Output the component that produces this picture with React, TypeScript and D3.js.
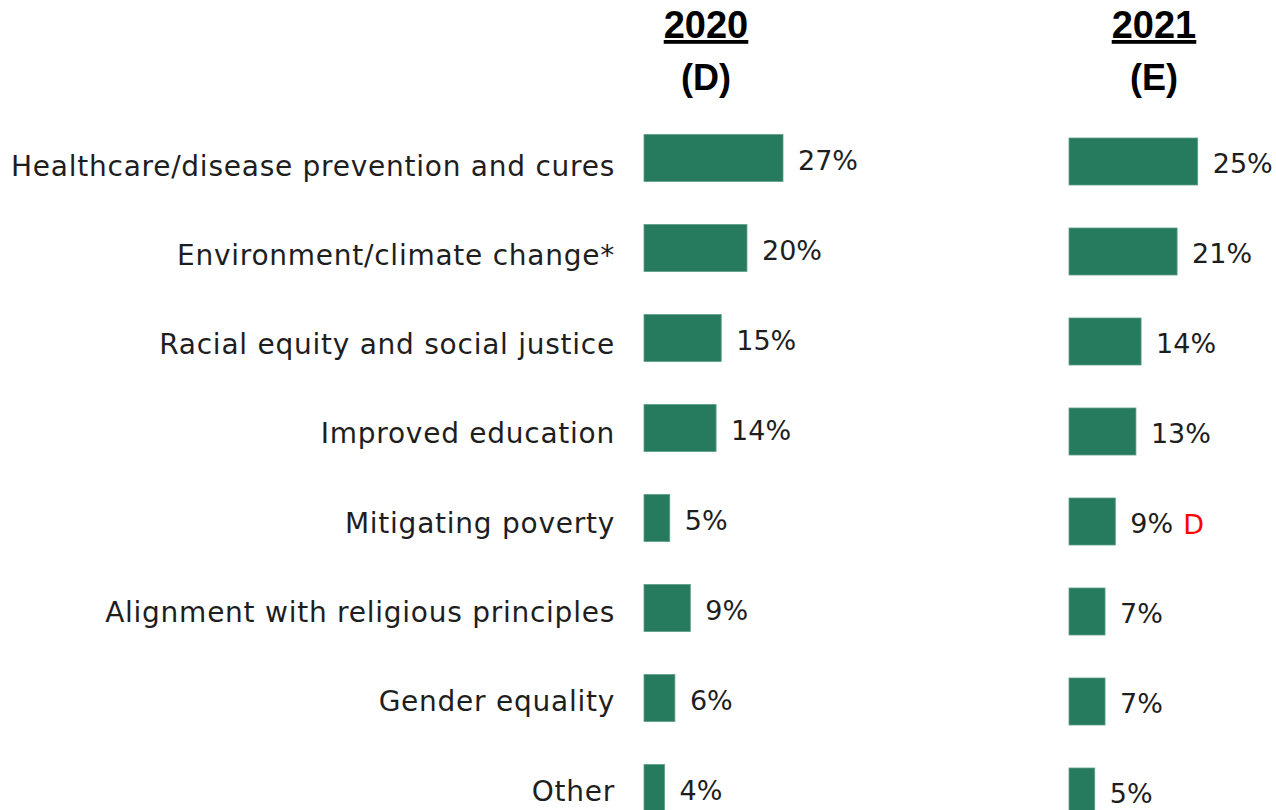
import React from "react";
import * as d3 from "d3";

const categories = [
  "Healthcare/disease prevention and cures",
  "Environment/climate change*",
  "Racial equity and social justice",
  "Improved education",
  "Mitigating poverty",
  "Alignment with religious principles",
  "Gender equality",
  "Other",
];
const values2020 = [27, 20, 15, 14, 5, 9, 6, 4];
const values2021 = [25, 21, 14, 13, 9, 7, 7, 5];
const sigFlags2021 = ["", "", "", "", "D", "", "", ""];
const headers = [
  { year: "2020", letter: "(D)" },
  { year: "2021", letter: "(E)" },
];

const W = 1276;
const H = 810;
const BAR = "#267b5e";
const LABEL_FONT = "'DejaVu Sans', 'Noto Sans', sans-serif";
const HEAD_FONT = "'Liberation Sans', Arial, sans-serif";

export default function App() {
  const x = d3.scaleLinear().domain([0, 27]).range([0, 139]);
  const yLabel = d3.scalePoint<string>().domain(categories).range([166, 791]);
  const y2020 = d3.scalePoint<string>().domain(categories).range([158, 788]);
  const y2021 = d3.scalePoint<string>().domain(categories).range([161.5, 791.5]);
  const barH = 47;
  const cols = [
    { x0: 644, y: y2020, vals: values2020, flags: categories.map(() => ""), cx: 706 },
    { x0: 1069, y: y2021, vals: values2021, flags: sigFlags2021, cx: 1154 },
  ];
  return (
    <svg
      width={W}
      height={H}
      style={{ position: "absolute", left: 0, top: 0, background: "#fff" }}
    >
      {categories.map((c) => (
        <text
          key={c}
          x={615}
          y={yLabel(c)!}
          textAnchor="end"
          dominantBaseline="central"
          fontFamily={LABEL_FONT}
          fontSize={28}
          letterSpacing={0.75}
          fill="#1e1e1e"
        >
          {c}
        </text>
      ))}
      {cols.map((col, ci) => (
        <g key={ci}>
          <text
            x={col.cx}
            y={38}
            textAnchor="middle"
            fontFamily={HEAD_FONT}
            fontWeight="bold"
            fontSize={38}
            fill="#000"
            textDecoration="underline"
          >
            {headers[ci].year}
          </text>
          <text
            x={col.cx}
            y={90}
            textAnchor="middle"
            fontFamily={HEAD_FONT}
            fontWeight="bold"
            fontSize={36}
            fill="#000"
          >
            {headers[ci].letter}
          </text>
          {categories.map((c, i) => {
            const cy = col.y(c)!;
            const w = x(col.vals[i]);
            return (
              <g key={c}>
                <rect
                  x={col.x0}
                  y={cy - barH / 2}
                  width={w}
                  height={barH}
                  fill={BAR}
                  stroke="#5e9f86"
                  strokeWidth={0.8}
                />
                <text
                  x={col.x0 + w + 15}
                  y={cy + 2}
                  dominantBaseline="central"
                  fontFamily={LABEL_FONT}
                  fontSize={27}
                  fill="#1e1e1e"
                >
                  {col.vals[i] + "%"}
                  {col.flags[i] ? (
                    <tspan fill="#ff0000" dx={10}>
                      {col.flags[i]}
                    </tspan>
                  ) : null}
                </text>
              </g>
            );
          })}
        </g>
      ))}
    </svg>
  );
}
